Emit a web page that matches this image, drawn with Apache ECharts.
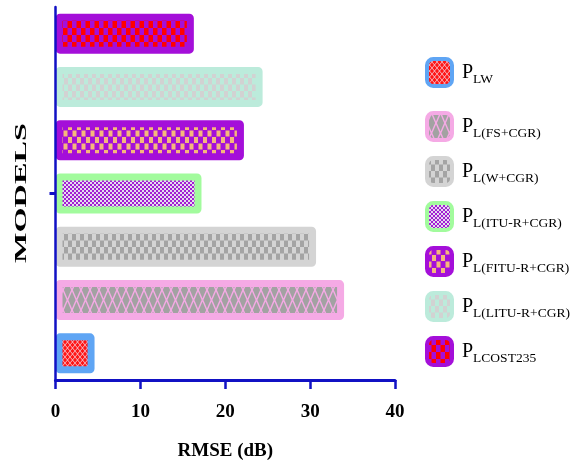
<!DOCTYPE html>
<html>
<head>
<meta charset="utf-8">
<script src="https://cdn.jsdelivr.net/npm/echarts@6/dist/echarts.min.js"></script>
<style>
  html, body { margin: 0; padding: 0; background: #ffffff; }
  #chart { width: 571px; height: 468px; }
</style>
</head>
<body>
<div id="chart"></div>
<script>
// Models, listed bottom to top on the category axis
const modelSubs = ['LW', 'L(FS+CGR)', 'L(W+CGR)', 'L(ITU-R+CGR)', 'L(FITU-R+CGR)', 'L(LITU-R+CGR)', 'LCOST235'];
// RMSE in dB for each model
const rmseValues = [4.6, 34.0, 30.7, 17.2, 22.2, 24.4, 16.3];
// Axis ticks
const xTicks = [0, 10, 20, 30, 40];
const axisTitleX = 'RMSE (dB)';
const axisTitleY = 'MODELS';

const AXIS_BLUE = '#1111c4';
const SERIF = '"Liberation Serif", "Times New Roman", serif';

// Tile painter for the hatched bar fills
function tile(w, h, bg, paint) {
  const c = document.createElement('canvas');
  c.width = w; c.height = h;
  const g = c.getContext('2d');
  g.fillStyle = bg; g.fillRect(0, 0, w, h);
  paint(g, w, h);
  return c;
}
function checker(w, h, bg, fg, inset) {
  inset = inset || 0;
  return tile(w, h, bg, (g) => {
    g.fillStyle = fg;
    g.fillRect(inset, inset, w / 2 - inset, h / 2 - inset);
    g.fillRect(w / 2 + inset, h / 2 + inset, w / 2 - inset, h / 2 - inset);
  });
}
function diamonds(w, h, bg, fg, rx, ry) {
  return tile(w, h, bg, (g) => {
    g.fillStyle = fg;
    const pts = [[0, 0], [w, 0], [0, h], [w, h], [w / 2, h / 2]];
    pts.forEach(([cx, cy]) => {
      g.beginPath();
      g.moveTo(cx, cy - ry); g.lineTo(cx + rx, cy); g.lineTo(cx, cy + ry); g.lineTo(cx - rx, cy);
      g.closePath(); g.fill();
    });
  });
}

// Frame colour and fill tile of each model's bar (same order as modelSubs)
const frameColors = ['#5fa5f4', '#f5aae5', '#d4d4d4', '#a2fb9d', '#a40fd9', '#bcebdb', '#a40fd9'];
const fills = [
  diamonds(5, 6, '#f4d2de', '#ff1515', 2.1, 2.6),
  diamonds(9, 20, '#f5aae5', '#a2a2a2', 3.6, 8.6),
  checker(8, 13, '#d4d4d4', '#a4a4a4'),
  checker(4, 4, '#a21fd3', '#e6dcef'),
  checker(9, 13, '#a40fd9', '#f6b77b', 0.5),
  checker(8, 13, '#bcebdb', '#d2d2d2'),
  checker(9, 14, '#a40fd9', '#ff0000')
];

const series = modelSubs.map((sub, i) => ({
  type: 'bar',
  name: 'P' + sub,
  stack: 'models',
  barWidth: 40,
  data: rmseValues.map((v, j) => (j === i ? v : '-')),
  itemStyle: {
    color: { image: fills[i], repeat: 'repeat' },
    borderColor: frameColors[i],
    borderWidth: 7,
    borderRadius: 1
  },
  emphasis: { disabled: true }
}));

const legendText = {
  rich: {
    p: { fontSize: 20, fontFamily: SERIF, color: '#000', padding: [0, 0, 0, 5] },
    s: { fontSize: 13.5, fontFamily: SERIF, color: '#000', padding: [14, 0, 0, 0] }
  }
};
const legendBase = {
  orient: 'vertical',
  left: 420,
  icon: 'roundRect',
  itemWidth: 25,
  itemHeight: 27,
  itemGap: 14,
  selectedMode: false,
  itemStyle: { borderWidth: 4 },
  formatter: (name) => '{p|P}{s|' + name.slice(1) + '}',
  textStyle: legendText
};

const chart = echarts.init(document.getElementById('chart'), null, { renderer: 'canvas' });
chart.setOption({
  animation: false,
  backgroundColor: '#ffffff',
  grid: { left: 55.5, right: 176, top: 7, bottom: 88, containLabel: false },
  legend: [
    Object.assign({}, legendBase, { top: 52, data: ['P' + modelSubs[0]] }),
    Object.assign({}, legendBase, { top: 106, data: modelSubs.slice(1).map(s => 'P' + s) })
  ],
  xAxis: {
    type: 'value',
    min: xTicks[0],
    max: xTicks[xTicks.length - 1],
    interval: xTicks[1] - xTicks[0],
    z: 5,
    splitLine: { show: false },
    axisLine: { show: true, lineStyle: { color: AXIS_BLUE, width: 3 } },
    axisTick: { show: true, length: 9, lineStyle: { color: AXIS_BLUE, width: 2.5 } },
    axisLabel: { margin: 23, color: '#000', fontFamily: SERIF, fontWeight: 'bold', fontSize: 19 },
    name: axisTitleX,
    nameLocation: 'middle',
    nameGap: 62,
    nameTextStyle: { color: '#000', fontFamily: SERIF, fontWeight: 'bold', fontSize: 19 }
  },
  yAxis: {
    type: 'category',
    data: modelSubs,
    z: 5,
    axisLine: { show: true, lineStyle: { color: AXIS_BLUE, width: 2.5 } },
    axisTick: {
      show: true,
      alignWithLabel: true,
      length: 6,
      interval: (idx) => idx === 3,
      lineStyle: { color: AXIS_BLUE, width: 3 }
    },
    axisLabel: { show: false },
    splitLine: { show: false }
  },
  graphic: [{
    type: 'text',
    x: 22,
    y: 193,
    rotation: Math.PI / 2,
    scaleX: 1.9,
    style: {
      text: axisTitleY,
      font: 'bold 17px ' + SERIF,
      fill: '#000',
      align: 'center',
      verticalAlign: 'middle'
    }
  }],
  series: series
});
</script>
</body>
</html>
